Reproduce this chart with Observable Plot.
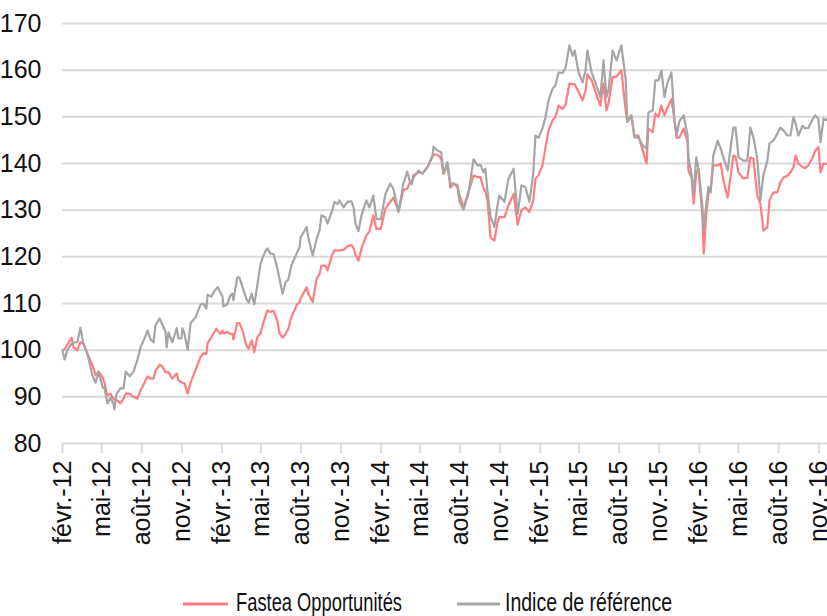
<!DOCTYPE html>
<html><head><meta charset="utf-8">
<script src="https://cdn.jsdelivr.net/npm/d3@7"></script>
<script src="https://cdn.jsdelivr.net/npm/@observablehq/plot@0.6"></script>
<style>
body{margin:0;background:#fff;font-family:"Liberation Sans",Arial,sans-serif}
#chart svg{display:block}
</style>
</head><body><div id="chart"></div><script>
const dates = [
"2012-02-01","2012-02-06","2012-02-12","2012-02-22","2012-02-26","2012-03-06","2012-03-13","2012-03-20","2012-03-29","2012-04-10",
"2012-04-17","2012-04-24","2012-05-03","2012-05-07","2012-05-14","2012-05-21","2012-05-28","2012-05-30","2012-06-04","2012-06-13",
"2012-06-20","2012-06-25","2012-07-04","2012-07-13","2012-07-22","2012-07-29","2012-08-07","2012-08-14","2012-08-21","2012-08-28",
"2012-09-01","2012-09-11","2012-09-17","2012-09-24","2012-09-27","2012-10-01","2012-10-10","2012-10-20","2012-10-24","2012-10-31",
"2012-11-02","2012-11-07","2012-11-14","2012-11-21","2012-12-02","2012-12-14","2012-12-20","2012-12-27","2012-12-30","2013-01-08",
"2013-01-12","2013-01-19","2013-01-22","2013-01-28","2013-02-02","2013-02-04","2013-02-13","2013-02-20","2013-02-25","2013-02-27",
"2013-03-08","2013-03-13","2013-03-20","2013-03-29","2013-04-03","2013-04-10","2013-04-16","2013-04-23","2013-04-30","2013-05-05",
"2013-05-12","2013-05-16","2013-05-23","2013-05-30","2013-06-08","2013-06-13","2013-06-20","2013-06-27","2013-07-03","2013-07-10",
"2013-07-22","2013-07-29","2013-07-31","2013-08-14","2013-08-18","2013-08-28","2013-09-06","2013-09-13","2013-09-17","2013-09-26",
"2013-10-01","2013-10-12","2013-10-17","2013-10-24","2013-10-28","2013-11-07","2013-11-16","2013-11-25","2013-11-30","2013-12-04",
"2013-12-11","2013-12-18","2013-12-29","2014-01-05","2014-01-14","2014-01-21","2014-01-31","2014-02-11","2014-02-22","2014-03-01",
"2014-03-13","2014-03-24","2014-04-02","2014-04-07","2014-04-12","2014-04-16","2014-04-28","2014-05-07","2014-05-18","2014-05-30",
"2014-06-01","2014-06-10","2014-06-19","2014-06-24","2014-07-03","2014-07-10","2014-07-17","2014-07-26","2014-07-31","2014-08-09",
"2014-08-20","2014-09-01","2014-09-10","2014-09-17","2014-09-24","2014-09-28","2014-10-03","2014-10-10","2014-10-19","2014-10-26",
"2014-10-30","2014-11-11","2014-11-20","2014-12-02","2014-12-11","2014-12-20","2014-12-29","2015-01-07","2015-01-16","2015-01-21",
"2015-01-28","2015-02-06","2015-02-13","2015-02-20","2015-03-01","2015-03-08","2015-03-15","2015-03-24","2015-03-31","2015-04-09",
"2015-04-16","2015-04-21","2015-04-30","2015-05-09","2015-05-16","2015-05-20","2015-05-30","2015-06-08","2015-06-19","2015-06-26",
"2015-07-03","2015-07-08","2015-07-17","2015-07-26","2015-08-06","2015-08-16","2015-08-20","2015-08-29","2015-09-05","2015-09-14",
"2015-09-24","2015-10-03","2015-10-07","2015-10-17","2015-10-23","2015-10-30","2015-11-06","2015-11-13","2015-11-20","2015-11-29",
"2015-12-06","2015-12-11","2015-12-17","2015-12-27","2016-01-05","2016-01-07","2016-01-14","2016-01-19","2016-01-25","2016-01-30",
"2016-02-08","2016-02-11","2016-02-17","2016-02-22","2016-02-27","2016-03-04","2016-03-14","2016-03-21","2016-03-27","2016-04-06",
"2016-04-15","2016-04-19","2016-04-24","2016-05-01","2016-05-12","2016-05-21","2016-05-28","2016-06-04","2016-06-13","2016-06-20",
"2016-06-27","2016-07-06","2016-07-11","2016-07-20","2016-07-29","2016-08-05","2016-08-12","2016-08-21","2016-08-28","2016-09-04",
"2016-09-09","2016-09-15","2016-09-25","2016-10-01","2016-10-08","2016-10-18","2016-10-24","2016-10-31","2016-11-05","2016-11-12",
"2016-11-21"
];
const fastea = [
100,100.2,101.2,102.7,100.6,100,101.7,101.4,99.3,96.7,
94.6,95.4,94.2,93.1,90.3,90.7,89.6,89.4,89.3,88.6,
89.6,90.7,90.7,90,89.6,91.4,93,94.4,93.9,93.9,
95.5,96.9,96.5,95.3,95.3,95.3,93.9,95,93.5,93.2,
93,92.9,90.7,93.1,95.7,98.6,99.3,99.2,101.5,102.8,
103.5,104.6,104.2,103.5,104.2,103.6,103.9,103.5,103.5,102.3,
105.8,105.8,104.2,101,100.3,102.1,99.6,102.8,103.5,105.3,
107.4,108.5,108.2,108.4,106.3,103.5,102.7,103.5,104.6,107.1,
109.6,110.3,111,113.5,112.1,110.3,115.3,116.4,118.1,118.1,
117.1,120.5,121.4,121.4,121.4,121.5,122.3,122.5,121.8,120.5,
119.2,121.8,124.6,125.4,128.9,126,126,130.4,131.8,132.7,
129.8,134.3,134.6,135.8,136,137.5,138.1,137.9,139.2,141.5,
141.9,141.9,141,137.8,139.6,134.8,135.7,135.4,133.1,130.6,
133.8,137.4,137.1,137.1,134.6,134,132.1,124.1,123.5,127.4,
128.5,128.5,131,133.5,126.9,130,130.6,129.6,132.1,136.7,
137.5,139.6,143.4,147.1,149.2,150,152.4,151.7,152.6,157.1,
157,157,155.3,153.5,155.6,159.1,157.8,155.3,152.4,157.1,
151.4,153.1,158.5,158.6,160,151.4,148.9,150.3,146,146,
142.8,140,147.5,146.7,150.7,150,152.4,150.3,152,153.8,
149.2,145.5,145.6,147.5,144.6,138.5,137,131.4,138,138.9,
128.5,120.7,129.2,133.5,134.5,139.6,139.6,140,136.4,132.7,
138.9,141.7,141.5,138,136.8,136.9,141.3,141,133,131.4,
125.6,126.3,132.1,133.8,133.8,135.9,137,137.4,138.1,139.2,
141.7,140,139.2,139,139.6,141.3,142.8,143.5,138.1,140,
139.9
];
const indice = [
100,98,100,101.4,101.6,101.7,104.8,101.4,99.3,94.5,
93,95.4,92,92,88.6,89.8,88.5,87.3,90.7,91.8,
91.8,95.4,94.4,95.4,98,100.6,102.5,104.2,102.3,101.7,
105.3,106.8,105.5,104,100.6,103.8,101.7,104.7,102.5,102.5,
104.7,103.5,100,105.8,107,109.8,110,108.9,111.9,111.5,
112.3,113.2,113.5,112.4,111.5,109.4,109.8,111.7,112.1,110.7,
115.6,115.6,113.5,111,110.2,112.1,109.8,114,118.3,119.8,
121.3,121.8,120.7,120.6,117.5,115.2,112.1,114.6,115.1,118.1,
120.7,122.1,124.1,126.4,124.1,120.3,123.8,125.8,128.9,128.5,
127.1,130,131.8,131.3,132.1,130.6,131.8,131.9,130.5,127.1,
125.5,128.9,132.1,130.6,133.1,128.2,128,133.5,135.7,134.6,
129.6,135.7,138.3,136.4,135.5,137,138.5,137.8,139.2,141.7,
143.6,142.8,142.4,137.8,140.3,135.7,135.7,134.9,131.8,130.1,
133.5,140.9,139.6,139.7,138.1,138.9,134,128.5,126.4,131,
133.1,131.8,136.7,138.9,129.2,135.3,134.9,131.8,137.8,146,
145.5,147.5,149.9,153.5,156,156.7,159.5,159.4,160.5,165.3,
163.1,164.2,159.5,157.4,160,164.2,159.5,157.1,154.2,162.1,
154.2,156,164.2,162.1,165.3,158,148.9,150.3,145.6,145.6,
143.9,143.2,150.9,151.4,157.8,157.8,159.9,154.2,157.4,159.5,
149.2,146,149,150.3,146,141.3,137.8,133.5,141.3,138.9,
131,125.6,131.5,135,133.8,141.7,144.9,143.2,141.3,138.5,
145,147.7,147.7,141.3,140.6,140.6,147.7,145.6,141,132.1,
137.5,140.6,144.3,144.9,146.4,147.7,147.1,146,146,150,
148.5,146,148.1,147.5,147.6,149.5,150.3,149.6,144.6,149.6,
149.3
];
const tickDates = ["2012-02-01","2012-05-01","2012-08-01","2012-11-01","2013-02-01","2013-05-01","2013-08-01","2013-11-01",
"2014-02-01","2014-05-01","2014-08-01","2014-11-01","2015-02-01","2015-05-01","2015-08-01","2015-11-01",
"2016-02-01","2016-05-01","2016-08-01","2016-11-01"];
const tickLabels = ["févr.-12","mai-12","août-12","nov.-12","févr.-13","mai-13","août-13","nov.-13",
"févr.-14","mai-14","août-14","nov.-14","févr.-15","mai-15","août-15","nov.-15",
"févr.-16","mai-16","août-16","nov.-16"];
const yTicks = [80,90,100,110,120,130,140,150,160,170];
const seriesNames = ["Fastea Opportunités","Indice de référence"];
const seriesColors = ["#ff7c80","#a5a5a5"];

const parse = d3.utcParse("%Y-%m-%d");
const rows = [];
dates.forEach((d, i) => {
  rows.push({date: parse(d), value: fastea[i], series: seriesNames[0]});
  rows.push({date: parse(d), value: indice[i], series: seriesNames[1]});
});
const tickRows = tickDates.map((d, i) => ({date: parse(d), label: tickLabels[i]}));

const plot = Plot.plot({
  width: 827, height: 580,
  marginLeft: 62, marginRight: 0, marginTop: 23, marginBottom: 137,
  x: {type: "utc", domain: [parse("2012-02-01"), parse("2016-11-21")], axis: null},
  y: {domain: [80, 170], axis: null},
  color: {domain: seriesNames, range: seriesColors},
  style: {fontFamily: "Liberation Sans, Arial, sans-serif", background: "#fff"},
  marks: [
    Plot.ruleY(yTicks, {y: d => d, stroke: "#d9d9d9", strokeWidth: 2}),
    Plot.ruleX(tickRows, {x: "date", y1: 80, y2: 80, insetBottom: -10, stroke: "#d9d9d9", strokeWidth: 2}),
    Plot.line(rows, {x: "date", y: "value", z: "series", stroke: "series", strokeWidth: 2.2, curve: "linear"}),
    Plot.text(yTicks, {y: d => d, text: d => String(d), frameAnchor: "left", textAnchor: "end", dx: -21, fontSize: 25, fill: "#111", ariaLabel: "ylabels"}),
    Plot.text(tickRows, {x: "date", text: "label", frameAnchor: "bottom", rotate: -90, textAnchor: "end", lineAnchor: "middle", dy: 17, fontSize: 25, fill: "#111", ariaLabel: "xlabels"})
  ]
});
const chart = document.getElementById("chart");
chart.appendChild(plot);

// stretch/condense labels to mimic the reference's aspect
plot.querySelectorAll('g[aria-label="xlabels"] text').forEach(t => {
  const L = t.getComputedTextLength();
  t.setAttribute("textLength", (L * 1.235).toFixed(1));
  t.setAttribute("lengthAdjust", "spacingAndGlyphs");
});
plot.querySelectorAll('g[aria-label="ylabels"] text').forEach(t => {
  const L = t.getComputedTextLength();
  t.setAttribute("textLength", (L * 0.76).toFixed(1));
  t.setAttribute("lengthAdjust", "spacingAndGlyphs");
});

// legend below the plot
const leg = d3.create("svg").attr("width", 827).attr("height", 36).style("display", "block");
const items = [
  {name: seriesNames[0], color: seriesColors[0], x1: 183, x2: 228, tx: 236, len: 166},
  {name: seriesNames[1], color: seriesColors[1], x1: 457, x2: 500, tx: 505, len: 167}
];
items.forEach(it => {
  leg.append("line").attr("x1", it.x1).attr("x2", it.x2).attr("y1", 24).attr("y2", 24)
    .attr("stroke", it.color).attr("stroke-width", 3);
  leg.append("text").attr("x", it.tx).attr("y", 31).attr("font-size", 25)
    .attr("font-family", "Liberation Sans, Arial, sans-serif").attr("fill", "#111")
    .attr("textLength", it.len).attr("lengthAdjust", "spacingAndGlyphs").text(it.name);
});
chart.appendChild(leg.node());
</script></body></html>
